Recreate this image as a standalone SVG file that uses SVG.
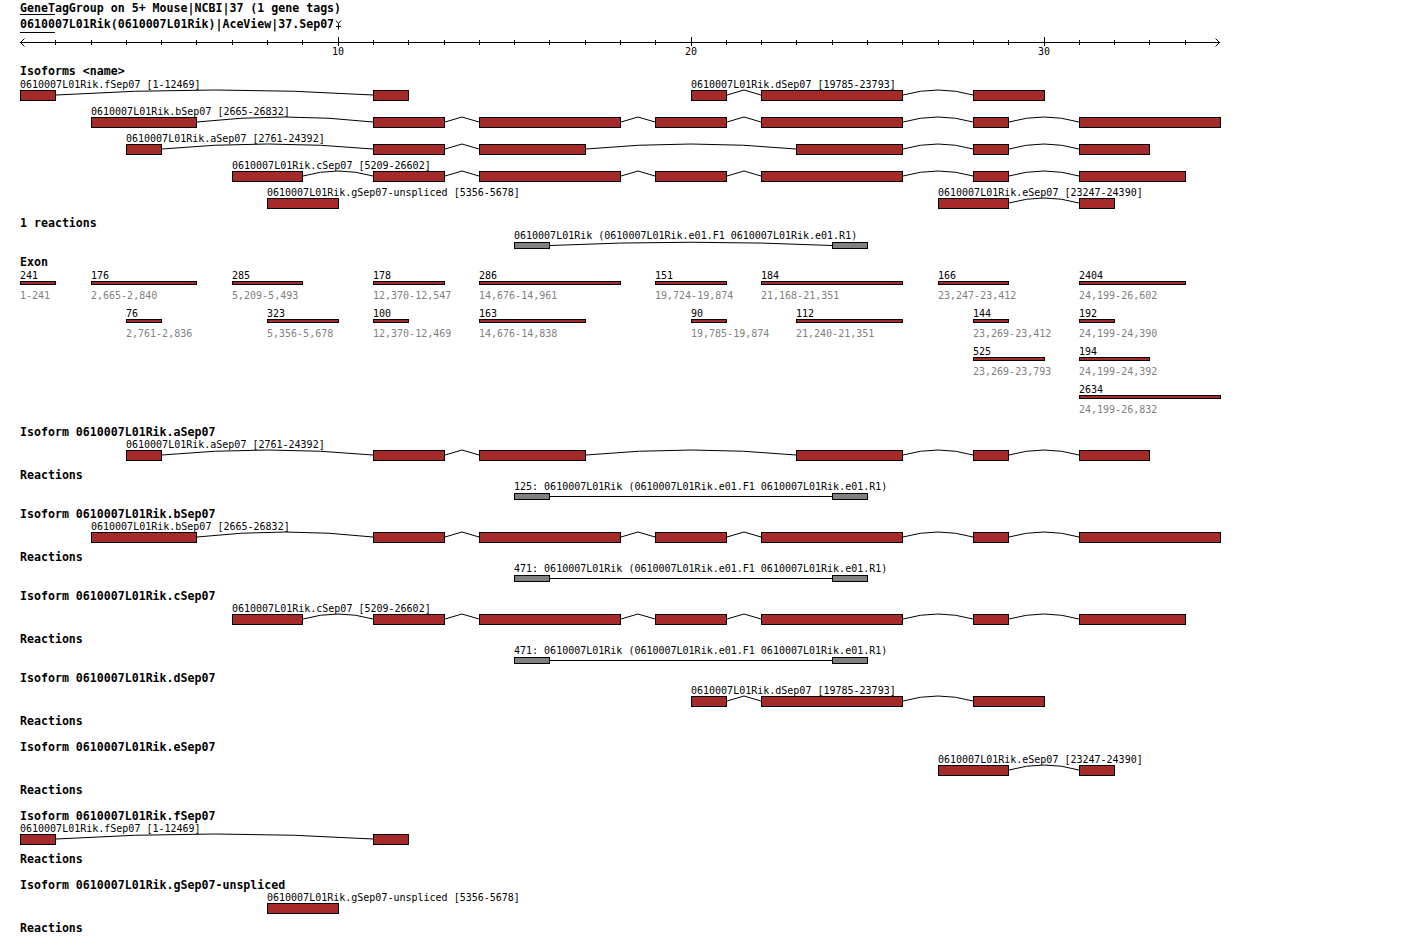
<svg xmlns="http://www.w3.org/2000/svg" width="1420" height="943" viewBox="0 0 1420 943">
<style>
.t{font-family:"DejaVu Sans Mono","Liberation Mono",monospace;font-size:10px;fill:#000}
.b{font-family:"DejaVu Sans Mono","Liberation Mono",monospace;font-size:11.6px;font-weight:bold;fill:#000}
.gy{fill:#808080}
.ex{fill:#a52a2a;stroke:#000;stroke-width:1}
.gb{fill:#808080;stroke:#000;stroke-width:1}
.ln{fill:none;stroke:#000;stroke-width:1}
</style>
<rect width="1420" height="943" fill="#fff"/>

<g id="header">
<text class="b" x="20" y="11.5">GeneTagGroup on 5+ Mouse|NCBI|37 (1 gene tags)</text>
<line class="ln" x1="20" y1="14.5" x2="55" y2="14.5"/>
<text class="b" x="20" y="28">0610007L01Rik(0610007L01Rik)|AceView|37.Sep07</text>
<line class="ln" x1="20" y1="32.5" x2="55" y2="32.5"/>
<path class="ln" d="M336,20.5 L338.5,23.5 L341,20.5 M338.5,23.5 V29.5 M336,26.5 H341"/>
</g>

<g id="axis">
<line class="ln" x1="20" y1="42.5" x2="1220" y2="42.5"/>
<path class="ln" d="M24.5,38.5 L20.5,42.5 L24.5,46.5 M1215.5,38.5 L1219.5,42.5 L1215.5,46.5"/>
<path class="ln" d="M55.5,40V45 M91.5,40V45 M126.5,40V45 M161.5,40V45 M196.5,40V45 M232.5,40V45 M267.5,40V45 M302.5,40V45 M338.5,37V46 M373.5,40V45 M408.5,40V45 M444.5,40V45 M479.5,40V45 M514.5,40V45 M549.5,40V45 M585.5,40V45 M620.5,40V45 M655.5,40V45 M691.5,37V46 M726.5,40V45 M761.5,40V45 M796.5,40V45 M832.5,40V45 M867.5,40V45 M902.5,40V45 M938.5,40V45 M973.5,40V45 M1008.5,40V45 M1044.5,37V46 M1079.5,40V45 M1114.5,40V45 M1149.5,40V45 M1185.5,40V45"/>
<text class="t" x="338" y="55" text-anchor="middle">10</text>
<text class="t" x="691" y="55" text-anchor="middle">20</text>
<text class="t" x="1044" y="55" text-anchor="middle">30</text>
</g>

<g id="connectors">
<!-- top overview introns -->
<path class="ln" d="M56,95 Q214.5,85 373,95"/>
<path class="ln" d="M727,95 L744,90 L761,95 M903,95 Q938,85 973,95"/>
<path class="ln" d="M197,122 Q285,112 373,122 M445,122 L462,117 L479,122 M621,122 L638,117 L655,122 M727,122 L744,117 L761,122 M903,122 Q938,112 973,122 M1009,122 Q1044,112 1079,122"/>
<path class="ln" d="M162,149 Q267.5,139 373,149 M445,149 L462,144 L479,149 M586,149 Q691,139 796,149 M903,149 Q938,139 973,149 M1009,149 Q1044,139 1079,149"/>
<path class="ln" d="M303,176 Q338,166 373,176 M445,176 L462,171 L479,176 M621,176 L638,171 L655,176 M727,176 L744,171 L761,176 M903,176 Q938,166 973,176 M1009,176 Q1044,166 1079,176"/>
<path class="ln" d="M1009,203 Q1044,193 1079,203"/>
<path class="ln" d="M550,245.5 Q691,239 832,245.5"/>
<!-- detail a -->
<path class="ln" d="M162,455 Q267.5,445 373,455 M445,455 L462,450 L479,455 M586,455 Q691,445 796,455 M903,455 Q938,445 973,455 M1009,455 Q1044,445 1079,455"/>
<line class="ln" x1="550" y1="496.5" x2="832" y2="496.5"/>
<!-- detail b -->
<path class="ln" d="M197,537 Q285,527 373,537 M445,537 L462,532 L479,537 M621,537 L638,532 L655,537 M727,537 L744,532 L761,537 M903,537 Q938,527 973,537 M1009,537 Q1044,527 1079,537"/>
<line class="ln" x1="550" y1="578.5" x2="832" y2="578.5"/>
<!-- detail c -->
<path class="ln" d="M303,619 Q338,609 373,619 M445,619 L462,614 L479,619 M621,619 L638,614 L655,619 M727,619 L744,614 L761,619 M903,619 Q938,609 973,619 M1009,619 Q1044,609 1079,619"/>
<line class="ln" x1="550" y1="660.5" x2="832" y2="660.5"/>
<!-- detail d -->
<path class="ln" d="M727,701 L744,696 L761,701 M903,701 Q938,691 973,701"/>
<!-- detail e -->
<path class="ln" d="M1009,770 Q1044,760 1079,770"/>
<!-- detail f -->
<path class="ln" d="M56,839 Q214.5,829 373,839"/>
</g>

<text class="b" x="20" y="75">Isoforms &lt;name&gt;</text>

<g id="iso-f">
<text class="t" x="20" y="87.5">0610007L01Rik.fSep07 [1-12469]</text>
<rect class="ex" x="20.5" y="90.5" width="35" height="10"/>
<rect class="ex" x="373.5" y="90.5" width="35" height="10"/>
</g>
<g id="iso-d">
<text class="t" x="691" y="87.5">0610007L01Rik.dSep07 [19785-23793]</text>
<rect class="ex" x="691.5" y="90.5" width="35" height="10"/>
<rect class="ex" x="761.5" y="90.5" width="141" height="10"/>
<rect class="ex" x="973.5" y="90.5" width="71" height="10"/>
</g>
<g id="iso-b">
<text class="t" x="91" y="114.5">0610007L01Rik.bSep07 [2665-26832]</text>
<rect class="ex" x="91.5" y="117.5" width="105" height="10"/>
<rect class="ex" x="373.5" y="117.5" width="71" height="10"/>
<rect class="ex" x="479.5" y="117.5" width="141" height="10"/>
<rect class="ex" x="655.5" y="117.5" width="71" height="10"/>
<rect class="ex" x="761.5" y="117.5" width="141" height="10"/>
<rect class="ex" x="973.5" y="117.5" width="35" height="10"/>
<rect class="ex" x="1079.5" y="117.5" width="141" height="10"/>
</g>
<g id="iso-a">
<text class="t" x="126" y="141.5">0610007L01Rik.aSep07 [2761-24392]</text>
<rect class="ex" x="126.5" y="144.5" width="35" height="10"/>
<rect class="ex" x="373.5" y="144.5" width="71" height="10"/>
<rect class="ex" x="479.5" y="144.5" width="106" height="10"/>
<rect class="ex" x="796.5" y="144.5" width="106" height="10"/>
<rect class="ex" x="973.5" y="144.5" width="35" height="10"/>
<rect class="ex" x="1079.5" y="144.5" width="70" height="10"/>
</g>
<g id="iso-c">
<text class="t" x="232" y="168.5">0610007L01Rik.cSep07 [5209-26602]</text>
<rect class="ex" x="232.5" y="171.5" width="70" height="10"/>
<rect class="ex" x="373.5" y="171.5" width="71" height="10"/>
<rect class="ex" x="479.5" y="171.5" width="141" height="10"/>
<rect class="ex" x="655.5" y="171.5" width="71" height="10"/>
<rect class="ex" x="761.5" y="171.5" width="141" height="10"/>
<rect class="ex" x="973.5" y="171.5" width="35" height="10"/>
<rect class="ex" x="1079.5" y="171.5" width="106" height="10"/>
</g>
<g id="iso-g">
<text class="t" x="267" y="195.5">0610007L01Rik.gSep07-unspliced [5356-5678]</text>
<rect class="ex" x="267.5" y="198.5" width="71" height="10"/>
</g>
<g id="iso-e">
<text class="t" x="938" y="195.5">0610007L01Rik.eSep07 [23247-24390]</text>
<rect class="ex" x="938.5" y="198.5" width="70" height="10"/>
<rect class="ex" x="1079.5" y="198.5" width="35" height="10"/>
</g>

<text class="b" x="20" y="227">1 reactions</text>
<g id="reaction-top">
<text class="t" x="514" y="239">0610007L01Rik (0610007L01Rik.e01.F1 0610007L01Rik.e01.R1)</text>
<rect class="gb" x="514.5" y="242.5" width="35" height="6"/>
<rect class="gb" x="832.5" y="242.5" width="35" height="6"/>
</g>

<text class="b" x="20" y="266">Exon</text>
<g id="exons">
<text class="t" x="20" y="278.5">241</text><rect class="ex" x="20.5" y="281.5" width="35" height="3"/><text class="t gy" x="20" y="298.5">1-241</text>
<text class="t" x="91" y="278.5">176</text><rect class="ex" x="91.5" y="281.5" width="105" height="3"/><text class="t gy" x="91" y="298.5">2,665-2,840</text>
<text class="t" x="232" y="278.5">285</text><rect class="ex" x="232.5" y="281.5" width="70" height="3"/><text class="t gy" x="232" y="298.5">5,209-5,493</text>
<text class="t" x="373" y="278.5">178</text><rect class="ex" x="373.5" y="281.5" width="71" height="3"/><text class="t gy" x="373" y="298.5">12,370-12,547</text>
<text class="t" x="479" y="278.5">286</text><rect class="ex" x="479.5" y="281.5" width="141" height="3"/><text class="t gy" x="479" y="298.5">14,676-14,961</text>
<text class="t" x="655" y="278.5">151</text><rect class="ex" x="655.5" y="281.5" width="71" height="3"/><text class="t gy" x="655" y="298.5">19,724-19,874</text>
<text class="t" x="761" y="278.5">184</text><rect class="ex" x="761.5" y="281.5" width="141" height="3"/><text class="t gy" x="761" y="298.5">21,168-21,351</text>
<text class="t" x="938" y="278.5">166</text><rect class="ex" x="938.5" y="281.5" width="70" height="3"/><text class="t gy" x="938" y="298.5">23,247-23,412</text>
<text class="t" x="1079" y="278.5">2404</text><rect class="ex" x="1079.5" y="281.5" width="106" height="3"/><text class="t gy" x="1079" y="298.5">24,199-26,602</text>

<text class="t" x="126" y="316.5">76</text><rect class="ex" x="126.5" y="319.5" width="35" height="3"/><text class="t gy" x="126" y="336.5">2,761-2,836</text>
<text class="t" x="267" y="316.5">323</text><rect class="ex" x="267.5" y="319.5" width="71" height="3"/><text class="t gy" x="267" y="336.5">5,356-5,678</text>
<text class="t" x="373" y="316.5">100</text><rect class="ex" x="373.5" y="319.5" width="35" height="3"/><text class="t gy" x="373" y="336.5">12,370-12,469</text>
<text class="t" x="479" y="316.5">163</text><rect class="ex" x="479.5" y="319.5" width="106" height="3"/><text class="t gy" x="479" y="336.5">14,676-14,838</text>
<text class="t" x="691" y="316.5">90</text><rect class="ex" x="691.5" y="319.5" width="35" height="3"/><text class="t gy" x="691" y="336.5">19,785-19,874</text>
<text class="t" x="796" y="316.5">112</text><rect class="ex" x="796.5" y="319.5" width="106" height="3"/><text class="t gy" x="796" y="336.5">21,240-21,351</text>
<text class="t" x="973" y="316.5">144</text><rect class="ex" x="973.5" y="319.5" width="35" height="3"/><text class="t gy" x="973" y="336.5">23,269-23,412</text>
<text class="t" x="1079" y="316.5">192</text><rect class="ex" x="1079.5" y="319.5" width="35" height="3"/><text class="t gy" x="1079" y="336.5">24,199-24,390</text>

<text class="t" x="973" y="354.5">525</text><rect class="ex" x="973.5" y="357.5" width="71" height="3"/><text class="t gy" x="973" y="374.5">23,269-23,793</text>
<text class="t" x="1079" y="354.5">194</text><rect class="ex" x="1079.5" y="357.5" width="70" height="3"/><text class="t gy" x="1079" y="374.5">24,199-24,392</text>

<text class="t" x="1079" y="392.5">2634</text><rect class="ex" x="1079.5" y="395.5" width="141" height="3"/><text class="t gy" x="1079" y="412.5">24,199-26,832</text>
</g>

<g id="detail-a">
<text class="b" x="20" y="435.5">Isoform 0610007L01Rik.aSep07</text>
<text class="t" x="126" y="447.5">0610007L01Rik.aSep07 [2761-24392]</text>
<rect class="ex" x="126.5" y="450.5" width="35" height="10"/>
<rect class="ex" x="373.5" y="450.5" width="71" height="10"/>
<rect class="ex" x="479.5" y="450.5" width="106" height="10"/>
<rect class="ex" x="796.5" y="450.5" width="106" height="10"/>
<rect class="ex" x="973.5" y="450.5" width="35" height="10"/>
<rect class="ex" x="1079.5" y="450.5" width="70" height="10"/>
<text class="b" x="20" y="478.5">Reactions</text>
<text class="t" x="514" y="490">125: 0610007L01Rik (0610007L01Rik.e01.F1 0610007L01Rik.e01.R1)</text>
<rect class="gb" x="514.5" y="493.5" width="35" height="6"/>
<rect class="gb" x="832.5" y="493.5" width="35" height="6"/>
</g>

<g id="detail-b">
<text class="b" x="20" y="517.5">Isoform 0610007L01Rik.bSep07</text>
<text class="t" x="91" y="529.5">0610007L01Rik.bSep07 [2665-26832]</text>
<rect class="ex" x="91.5" y="532.5" width="105" height="10"/>
<rect class="ex" x="373.5" y="532.5" width="71" height="10"/>
<rect class="ex" x="479.5" y="532.5" width="141" height="10"/>
<rect class="ex" x="655.5" y="532.5" width="71" height="10"/>
<rect class="ex" x="761.5" y="532.5" width="141" height="10"/>
<rect class="ex" x="973.5" y="532.5" width="35" height="10"/>
<rect class="ex" x="1079.5" y="532.5" width="141" height="10"/>
<text class="b" x="20" y="560.5">Reactions</text>
<text class="t" x="514" y="572">471: 0610007L01Rik (0610007L01Rik.e01.F1 0610007L01Rik.e01.R1)</text>
<rect class="gb" x="514.5" y="575.5" width="35" height="6"/>
<rect class="gb" x="832.5" y="575.5" width="35" height="6"/>
</g>

<g id="detail-c">
<text class="b" x="20" y="599.5">Isoform 0610007L01Rik.cSep07</text>
<text class="t" x="232" y="611.5">0610007L01Rik.cSep07 [5209-26602]</text>
<rect class="ex" x="232.5" y="614.5" width="70" height="10"/>
<rect class="ex" x="373.5" y="614.5" width="71" height="10"/>
<rect class="ex" x="479.5" y="614.5" width="141" height="10"/>
<rect class="ex" x="655.5" y="614.5" width="71" height="10"/>
<rect class="ex" x="761.5" y="614.5" width="141" height="10"/>
<rect class="ex" x="973.5" y="614.5" width="35" height="10"/>
<rect class="ex" x="1079.5" y="614.5" width="106" height="10"/>
<text class="b" x="20" y="642.5">Reactions</text>
<text class="t" x="514" y="654">471: 0610007L01Rik (0610007L01Rik.e01.F1 0610007L01Rik.e01.R1)</text>
<rect class="gb" x="514.5" y="657.5" width="35" height="6"/>
<rect class="gb" x="832.5" y="657.5" width="35" height="6"/>
</g>

<g id="detail-d">
<text class="b" x="20" y="681.5">Isoform 0610007L01Rik.dSep07</text>
<text class="t" x="691" y="693.5">0610007L01Rik.dSep07 [19785-23793]</text>
<rect class="ex" x="691.5" y="696.5" width="35" height="10"/>
<rect class="ex" x="761.5" y="696.5" width="141" height="10"/>
<rect class="ex" x="973.5" y="696.5" width="71" height="10"/>
<text class="b" x="20" y="724.5">Reactions</text>
</g>

<g id="detail-e">
<text class="b" x="20" y="750.5">Isoform 0610007L01Rik.eSep07</text>
<text class="t" x="938" y="762.5">0610007L01Rik.eSep07 [23247-24390]</text>
<rect class="ex" x="938.5" y="765.5" width="70" height="10"/>
<rect class="ex" x="1079.5" y="765.5" width="35" height="10"/>
<text class="b" x="20" y="793.5">Reactions</text>
</g>

<g id="detail-f">
<text class="b" x="20" y="819.5">Isoform 0610007L01Rik.fSep07</text>
<text class="t" x="20" y="831.5">0610007L01Rik.fSep07 [1-12469]</text>
<rect class="ex" x="20.5" y="834.5" width="35" height="10"/>
<rect class="ex" x="373.5" y="834.5" width="35" height="10"/>
<text class="b" x="20" y="862.5">Reactions</text>
</g>

<g id="detail-g">
<text class="b" x="20" y="888.5">Isoform 0610007L01Rik.gSep07-unspliced</text>
<text class="t" x="267" y="900.5">0610007L01Rik.gSep07-unspliced [5356-5678]</text>
<rect class="ex" x="267.5" y="903.5" width="71" height="10"/>
<text class="b" x="20" y="931.5">Reactions</text>
</g>
</svg>
